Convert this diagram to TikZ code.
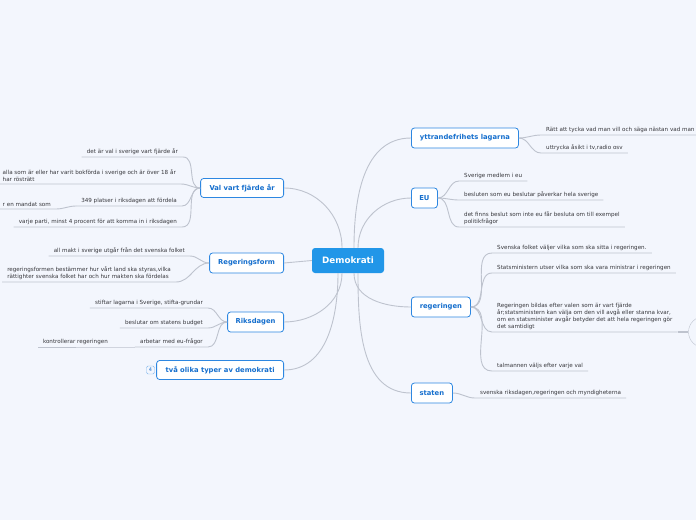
\documentclass[tikz,border=0pt]{standalone}
\usepackage{fontspec}
\setmainfont{DejaVu Sans}
\definecolor{mmback}{RGB}{243,246,253}
\definecolor{mmblue}{RGB}{33,150,232}
\definecolor{mmedge}{RGB}{45,135,225}
\definecolor{mmtext}{RGB}{20,110,205}
\definecolor{mmlink}{RGB}{190,195,206}
\definecolor{mmleaf}{RGB}{55,55,60}

\begin{document}
\begin{tikzpicture}[x=1pt,y=1pt,
  root/.style={fill=mmblue,text=white,rounded corners=3pt,
    font=\bfseries\fontsize{8.8}{10}\selectfont,
    minimum width=72pt,minimum height=25pt,inner sep=0pt},
  topic/.style={draw=mmedge,line width=0.8pt,fill=white,text=mmtext,
    rounded corners=3pt,font=\bfseries\fontsize{6.8}{8}\selectfont,
    minimum height=20pt,inner xsep=3pt,inner ysep=0pt},
  leaf/.style={text=mmleaf,font=\fontsize{5.6}{7}\selectfont,
    align=left,inner xsep=5pt,inner ysep=2pt},
  link/.style={draw=mmlink,line width=0.9pt},
  badge/.style={draw=mmedge!60,rounded corners=1.5pt,text=mmtext,
    font=\fontsize{5}{5}\selectfont,minimum size=8pt,inner sep=0pt}]
  % canvas
  \useasboundingbox (0,0) rectangle (696,-520);
  \clip (0,0) rectangle (696,-520);
  \fill[mmback] (0,0) rectangle (696,-520);

  % centre
  \node[root] (demo) at (348,-260.5) {Demokrati};

  % right topics
  \node[topic,anchor=west,minimum width=107pt] (ytt) at (411,-138) {yttrandefrihets lagarna};
  \node[topic,anchor=west,minimum width=26pt] (eu) at (411,-198) {EU};
  \node[topic,anchor=west,minimum width=59pt] (reg) at (411,-307) {regeringen};
  \node[topic,anchor=west,minimum width=41pt] (stat) at (411,-393) {staten};

  % left topics
  \node[topic,anchor=east,minimum width=83pt,minimum height=19pt] (val) at (284,-188) {Val vart fjärde år};
  \node[topic,anchor=east,minimum width=74pt] (rform) at (284,-263) {Regeringsform};
  \node[topic,anchor=east,minimum width=56pt] (riks) at (284,-322) {Riksdagen};
  \node[topic,anchor=east,minimum width=127pt,minimum height=19pt] (typer) at (284,-370) {två olika typer av demokrati};
  \node[badge] (typerbadge) at (150.5,-370) {4};

  % centre to topics
  \draw[link] ([xshift=6pt]demo.north) to[out=90,in=180] (ytt.west);
  \draw[link] ([xshift=10pt]demo.north) to[out=90,in=180] (eu.west);
  \draw[link] ([xshift=6pt]demo.south) to[out=-90,in=180] (reg.west);
  \draw[link] ([xshift=10pt]demo.south) to[out=-90,in=180] (stat.west);
  \draw[link] ([xshift=-6pt]demo.north) to[out=90,in=0] (val.east);
  \draw[link] (demo.west) -- (rform.east);
  \draw[link] ([xshift=-6pt]demo.south) to[out=-90,in=0] (riks.east);
  \draw[link] ([xshift=-10pt]demo.south) to[out=-90,in=0] (typer.east);

  % yttrandefrihets lagarna
  \node[leaf,anchor=south west] (y1) at (541,-135) {Rätt att tycka vad man vill och säga nästan vad man vill};
  \node[leaf,anchor=south west] (y2) at (541,-153) {uttrycka åsikt i tv,radio osv};
  \foreach \l in {y1,y2}
    \draw[link] (ytt.east) to[out=0,in=180] (\l.south west) -- (\l.south east);

  % EU
  \node[leaf,anchor=south west] (e1) at (459,-181) {Sverige medlem i eu};
  \node[leaf,anchor=south west] (e2) at (459,-200) {besluten som eu beslutar påverkar hela sverige};
  \node[leaf,anchor=south west] (e3) at (459,-227) {det finns beslut som inte eu får besluta om till exempel\\politikfrågor};
  \foreach \l in {e1,e2,e3}
    \draw[link] (eu.east) to[out=0,in=180] (\l.south west) -- (\l.south east);

  % regeringen
  \node[leaf,anchor=south west] (g1) at (492,-253) {Svenska folket väljer vilka som ska sitta i regeringen.};
  \node[leaf,anchor=south west] (g2) at (492,-273) {Statsministern utser vilka som ska vara ministrar i regeringen};
  \node[leaf,anchor=south west] (g3) at (492,-332) {Regeringen bildas efter valen som är vart fjärde\\år;statsministern kan välja om den vill avgå eller stanna kvar,\\om en statsminister avgår betyder det att hela regeringen gör\\det samtidigt};
  \node[leaf,anchor=south west] (g4) at (492,-371) {talmannen väljs efter varje val};
  \foreach \l in {g1,g2,g3,g4}
    \draw[link] (reg.east) to[out=0,in=180] (\l.south west) -- (\l.south east);
  \node[draw=mmlink,circle,minimum size=31pt] (g3sub) at (704,-332) {};
  \draw[link,line width=1.6pt] (g3.south east) -- (g3sub.west);

  % staten
  \node[leaf,anchor=south west] (s1) at (475,-398) {svenska riksdagen,regeringen och myndigheterna};
  \draw[link] (stat.east) to[out=0,in=180] (s1.south west) -- (s1.south east);

  % Val vart fjärde år
  \node[leaf,anchor=south east] (v1) at (183,-157) {det är val i sverige vart fjärde år};
  \node[leaf,anchor=south east] (v2) at (181,-184) {alla som är eller har varit bokförda i sverige och är över 18 år\\har rösträtt};
  \node[leaf,anchor=south east] (v3) at (182,-206) {349 platser i riksdagen att fördela};
  \node[leaf,anchor=south east] (v3a) at (56,-209) {r en mandat som};
  \node[leaf,anchor=south east] (v4) at (182,-227) {varje parti, minst 4 procent för att komma in i riksdagen};
  \foreach \l in {v1,v2,v3,v4}
    \draw[link] (val.west) to[out=180,in=0] (\l.south east) -- (\l.south west);
  \draw[link] (v3.south west) to[out=180,in=0] (v3a.south east) -- (v3a.south west);

  % Regeringsform
  \node[leaf,anchor=south east] (r1) at (190,-256) {all makt i sverige utgår från det svenska folket};
  \node[leaf,anchor=south east] (r2) at (176,-282) {regeringsformen bestämmer hur vårt land ska styras,vilka\\rättighter svenska folket har och hur makten ska fördelas};
  \foreach \l in {r1,r2}
    \draw[link] (rform.west) to[out=180,in=0] (\l.south east) -- (\l.south west);

  % Riksdagen
  \node[leaf,anchor=south east] (k1) at (208,-308) {stiftar lagarna i Sverige, stifta-grundar};
  \node[leaf,anchor=south east] (k2) at (208,-328) {beslutar om statens budget};
  \node[leaf,anchor=south east] (k3) at (208,-347) {arbetar med eu-frågor};
  \node[leaf,anchor=south east] (k3a) at (113,-347) {kontrollerar regeringen};
  \foreach \l in {k1,k2,k3}
    \draw[link] (riks.west) to[out=180,in=0] (\l.south east) -- (\l.south west);
  \draw[link] (k3.south west) -- (k3a.south east) -- (k3a.south west);
\end{tikzpicture}
\end{document}
